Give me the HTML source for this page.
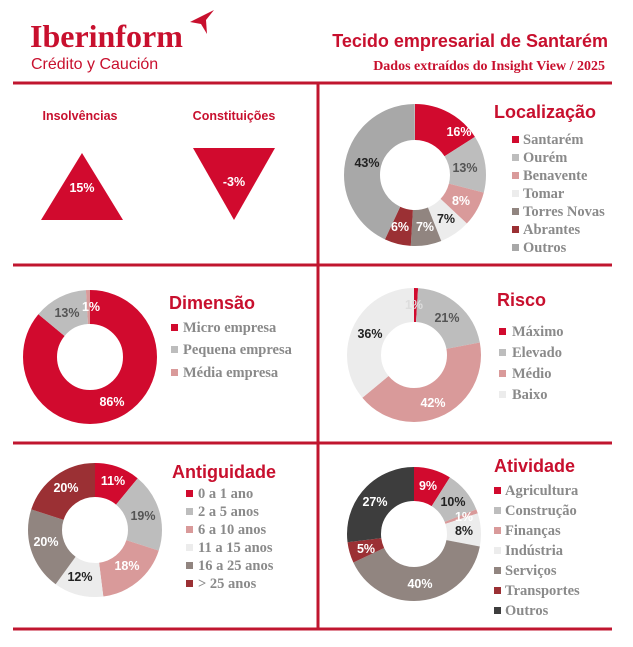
<!DOCTYPE html>
<html><head><meta charset="utf-8"><style>
body{margin:0;background:#fff;width:633px;height:647px;overflow:hidden}
svg{display:block}
.t{font-family:"Liberation Sans",sans-serif;font-weight:bold;fill:#c8102e}
.lg{font-family:"Liberation Serif",serif;font-weight:bold;font-size:14.5px;fill:#8a8a8a}
.p{font-family:"Liberation Sans",sans-serif;font-weight:bold;font-size:12.5px;text-anchor:middle;dominant-baseline:central}
</style></head><body>
<svg width="633" height="647" viewBox="0 0 633 647">
<text x="30" y="47" font-family="Liberation Serif,serif" font-weight="bold" font-size="32" fill="#c8102e">Iberinform</text>
<path d="M190 22 L214 10 L206 20 L207 34 L201 24 Z" fill="#c8102e"/>
<text x="31" y="69" font-family="Liberation Sans,sans-serif" font-size="16" fill="#c8102e">Crédito y Caución</text>
<text x="608" y="47" text-anchor="end" class="t" font-size="18">Tecido empresarial de Santarém</text>
<text x="605" y="70" text-anchor="end" font-family="Liberation Serif,serif" font-weight="bold" font-size="14" fill="#c8102e">Dados extraídos do Insight View / 2025</text>
<g stroke="#c0162f" stroke-width="3">
<line x1="13" y1="83" x2="612" y2="83"/>
<line x1="13" y1="265" x2="612" y2="265"/>
<line x1="13" y1="443" x2="612" y2="443"/>
<line x1="13" y1="629" x2="612" y2="629"/>
<line x1="318" y1="83" x2="318" y2="629"/>
</g>
<text x="80" y="120" text-anchor="middle" class="t" font-size="12.5">Insolvências</text>
<text x="234" y="120" text-anchor="middle" class="t" font-size="12.5">Constituições</text>
<polygon points="82,153 123,220 41,220" fill="#d10a2e"/>
<polygon points="193,148 275,148 234,220" fill="#d10a2e"/>
<text x="82" y="188" class="p" fill="#fff">15%</text>
<text x="234" y="182" class="p" fill="#fff">-3%</text>

<g transform="translate(415,175) rotate(-90)" fill="none" stroke-width="36">
<circle r="53" pathLength="100" stroke="#d10a2e" stroke-dasharray="16 100" stroke-dashoffset="0"/>
<circle r="53" pathLength="100" stroke="#bdbdbd" stroke-dasharray="13 100" stroke-dashoffset="-16"/>
<circle r="53" pathLength="100" stroke="#d99a9a" stroke-dasharray="8 100" stroke-dashoffset="-29"/>
<circle r="53" pathLength="100" stroke="#ececec" stroke-dasharray="7 100" stroke-dashoffset="-37"/>
<circle r="53" pathLength="100" stroke="#918580" stroke-dasharray="7 100" stroke-dashoffset="-44"/>
<circle r="53" pathLength="100" stroke="#9b3034" stroke-dasharray="6 100" stroke-dashoffset="-51"/>
<circle r="53" pathLength="100" stroke="#a8a8a8" stroke-dasharray="43 100" stroke-dashoffset="-57"/>
</g>
<text x="459" y="132" class="p" fill="#fff">16%</text>
<text x="465" y="168" class="p" fill="#555">13%</text>
<text x="461" y="201" class="p" fill="#fff">8%</text>
<text x="446" y="219" class="p" fill="#222">7%</text>
<text x="425" y="227" class="p" fill="#fff">7%</text>
<text x="400" y="227" class="p" fill="#fff">6%</text>
<text x="367" y="163" class="p" fill="#222">43%</text>
<text x="494" y="118" class="t" font-size="18">Localização</text>
<g class="lg">
<rect x="512" y="136" width="7" height="7" fill="#d10a2e"/><text x="523" y="144">Santarém</text>
<rect x="512" y="154" width="7" height="7" fill="#bdbdbd"/><text x="523" y="162">Ourém</text>
<rect x="512" y="172" width="7" height="7" fill="#d99a9a"/><text x="523" y="180">Benavente</text>
<rect x="512" y="190" width="7" height="7" fill="#ececec"/><text x="523" y="198">Tomar</text>
<rect x="512" y="208" width="7" height="7" fill="#918580"/><text x="523" y="216">Torres Novas</text>
<rect x="512" y="226" width="7" height="7" fill="#9b3034"/><text x="523" y="234">Abrantes</text>
<rect x="512" y="244" width="7" height="7" fill="#a8a8a8"/><text x="523" y="252">Outros</text>
</g>

<g transform="translate(90,357) rotate(-90)" fill="none" stroke-width="34">
<circle r="50" pathLength="100" stroke="#d10a2e" stroke-dasharray="86 100" stroke-dashoffset="0"/>
<circle r="50" pathLength="100" stroke="#bdbdbd" stroke-dasharray="13 100" stroke-dashoffset="-86"/>
<circle r="50" pathLength="100" stroke="#d99a9a" stroke-dasharray="1 100" stroke-dashoffset="-99"/>
</g>
<text x="91" y="307" class="p" fill="#fff">1%</text>
<text x="67" y="313" class="p" fill="#555">13%</text>
<text x="112" y="402" class="p" fill="#fff">86%</text>
<text x="169" y="309" class="t" font-size="18">Dimensão</text>
<g class="lg">
<rect x="171" y="324" width="7" height="7" fill="#d10a2e"/><text x="183" y="332">Micro empresa</text>
<rect x="171" y="346" width="7" height="7" fill="#bdbdbd"/><text x="183" y="354">Pequena empresa</text>
<rect x="171" y="369" width="7" height="7" fill="#d99a9a"/><text x="183" y="377">Média empresa</text>
</g>

<g transform="translate(414,355) rotate(-90)" fill="none" stroke-width="34">
<circle r="50" pathLength="100" stroke="#d10a2e" stroke-dasharray="1 100" stroke-dashoffset="0"/>
<circle r="50" pathLength="100" stroke="#bdbdbd" stroke-dasharray="21 100" stroke-dashoffset="-1"/>
<circle r="50" pathLength="100" stroke="#d99a9a" stroke-dasharray="42 100" stroke-dashoffset="-22"/>
<circle r="50" pathLength="100" stroke="#ececec" stroke-dasharray="36 100" stroke-dashoffset="-64"/>
</g>
<text x="414" y="305" class="p" fill="#ddd">1%</text>
<text x="447" y="318" class="p" fill="#555">21%</text>
<text x="433" y="403" class="p" fill="#fff">42%</text>
<text x="370" y="334" class="p" fill="#222">36%</text>
<text x="497" y="306" class="t" font-size="18">Risco</text>
<g class="lg">
<rect x="499" y="328" width="7" height="7" fill="#d10a2e"/><text x="512" y="336">Máximo</text>
<rect x="499" y="349" width="7" height="7" fill="#bdbdbd"/><text x="512" y="357">Elevado</text>
<rect x="499" y="370" width="7" height="7" fill="#d99a9a"/><text x="512" y="378">Médio</text>
<rect x="499" y="391" width="7" height="7" fill="#ececec"/><text x="512" y="399">Baixo</text>
</g>

<g transform="translate(95,530) rotate(-90)" fill="none" stroke-width="34">
<circle r="50" pathLength="100" stroke="#d10a2e" stroke-dasharray="11 100" stroke-dashoffset="0"/>
<circle r="50" pathLength="100" stroke="#bdbdbd" stroke-dasharray="19 100" stroke-dashoffset="-11"/>
<circle r="50" pathLength="100" stroke="#d99a9a" stroke-dasharray="18 100" stroke-dashoffset="-30"/>
<circle r="50" pathLength="100" stroke="#ececec" stroke-dasharray="12 100" stroke-dashoffset="-48"/>
<circle r="50" pathLength="100" stroke="#918580" stroke-dasharray="20 100" stroke-dashoffset="-60"/>
<circle r="50" pathLength="100" stroke="#9b3034" stroke-dasharray="20 100" stroke-dashoffset="-80"/>
</g>
<text x="113" y="481" class="p" fill="#fff">11%</text>
<text x="143" y="516" class="p" fill="#555">19%</text>
<text x="127" y="566" class="p" fill="#fff">18%</text>
<text x="80" y="577" class="p" fill="#222">12%</text>
<text x="46" y="542" class="p" fill="#fff">20%</text>
<text x="66" y="488" class="p" fill="#fff">20%</text>
<text x="172" y="478" class="t" font-size="18">Antiguidade</text>
<g class="lg">
<rect x="186" y="490" width="7" height="7" fill="#d10a2e"/><text x="198" y="498">0 a 1 ano</text>
<rect x="186" y="508" width="7" height="7" fill="#bdbdbd"/><text x="198" y="516">2 a 5 anos</text>
<rect x="186" y="526" width="7" height="7" fill="#d99a9a"/><text x="198" y="534">6 a 10 anos</text>
<rect x="186" y="544" width="7" height="7" fill="#ececec"/><text x="198" y="552">11 a 15 anos</text>
<rect x="186" y="562" width="7" height="7" fill="#918580"/><text x="198" y="570">16 a 25 anos</text>
<rect x="186" y="580" width="7" height="7" fill="#9b3034"/><text x="198" y="588">&gt; 25 anos</text>
</g>

<g transform="translate(414,534) rotate(-90)" fill="none" stroke-width="34">
<circle r="50" pathLength="100" stroke="#d10a2e" stroke-dasharray="9 100" stroke-dashoffset="0"/>
<circle r="50" pathLength="100" stroke="#bdbdbd" stroke-dasharray="10 100" stroke-dashoffset="-9"/>
<circle r="50" pathLength="100" stroke="#d99a9a" stroke-dasharray="1 100" stroke-dashoffset="-19"/>
<circle r="50" pathLength="100" stroke="#ececec" stroke-dasharray="8 100" stroke-dashoffset="-20"/>
<circle r="50" pathLength="100" stroke="#918580" stroke-dasharray="40 100" stroke-dashoffset="-28"/>
<circle r="50" pathLength="100" stroke="#9b3034" stroke-dasharray="5 100" stroke-dashoffset="-68"/>
<circle r="50" pathLength="100" stroke="#3d3d3d" stroke-dasharray="27 100" stroke-dashoffset="-73"/>
</g>
<text x="428" y="486" class="p" fill="#fff">9%</text>
<text x="453" y="502" class="p" fill="#222">10%</text>
<text x="464" y="517" class="p" fill="#fff">1%</text>
<text x="464" y="531" class="p" fill="#222">8%</text>
<text x="420" y="584" class="p" fill="#fff">40%</text>
<text x="366" y="549" class="p" fill="#fff">5%</text>
<text x="375" y="502" class="p" fill="#fff">27%</text>
<text x="494" y="472" class="t" font-size="18">Atividade</text>
<g class="lg">
<rect x="494" y="487" width="7" height="7" fill="#d10a2e"/><text x="505" y="495">Agricultura</text>
<rect x="494" y="507" width="7" height="7" fill="#bdbdbd"/><text x="505" y="515">Construção</text>
<rect x="494" y="527" width="7" height="7" fill="#d99a9a"/><text x="505" y="535">Finanças</text>
<rect x="494" y="547" width="7" height="7" fill="#ececec"/><text x="505" y="555">Indústria</text>
<rect x="494" y="567" width="7" height="7" fill="#918580"/><text x="505" y="575">Serviços</text>
<rect x="494" y="587" width="7" height="7" fill="#9b3034"/><text x="505" y="595">Transportes</text>
<rect x="494" y="607" width="7" height="7" fill="#3d3d3d"/><text x="505" y="615">Outros</text>
</g>
</svg>
</body></html>
